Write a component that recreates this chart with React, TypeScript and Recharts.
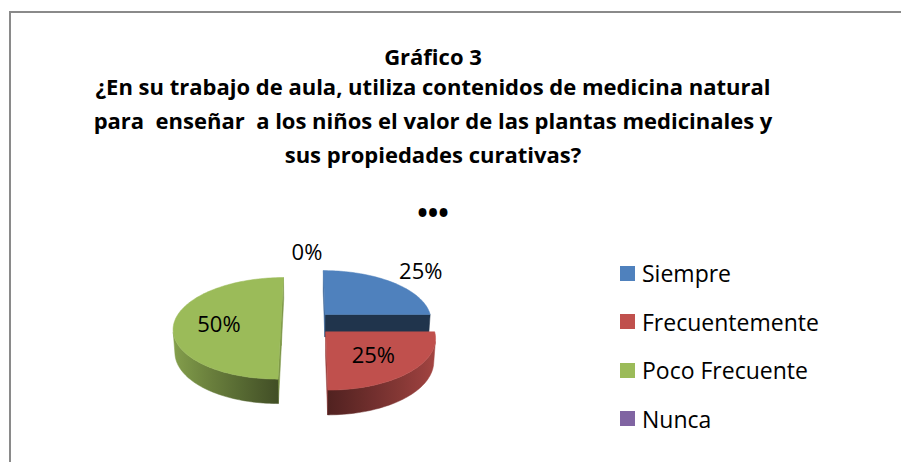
import React from "react";
import { Cell, Legend, Pie, PieChart } from "recharts";

const categories = ["Siempre", "Frecuentemente", "Poco Frecuente", "Nunca"];
const values = [25, 25, 50, 0];
const colors = ["#4F81BD", "#C0504D", "#9BBB59", "#8064A2"];
const titleLines = [
  "Gráfico 3",
  "¿En su trabajo de aula, utiliza contenidos de medicina natural",
  "para  enseñar  a los niños el valor de las plantas medicinales y",
  "sus propiedades curativas?",
];

const data = categories.map((name, i) => ({ name, value: values[i] }));

const FONT = "'Open Sans', Lato, sans-serif";
const RAD = Math.PI / 180;
// fake 3d: tilt + perspective like the excel chart
const TILT = 28 * RAD;
const FOCAL = 900;
const THICK = 26;
const EXPLODE = 26;
const CAM = [0, FOCAL * Math.sin(TILT), -FOCAL * Math.cos(TILT)];

type P3 = [number, number, number];

const project = (cx: number, cy: number, p: P3) => {
  const v = p[1] * Math.cos(TILT) + p[2] * Math.sin(TILT);
  const w = p[2] * Math.cos(TILT) - p[1] * Math.sin(TILT);
  const s = FOCAL / (FOCAL + w);
  return [cx + p[0] * s, cy - v * s];
};

const facesCamera = (n: number[], p: P3) =>
  n[0] * (CAM[0] - p[0]) + n[1] * (CAM[1] - p[1]) + n[2] * (CAM[2] - p[2]) > 0;

const shade = (hex: string, k: number) => {
  const n = parseInt(hex.slice(1), 16);
  const c = [(n >> 16) & 255, (n >> 8) & 255, n & 255].map((v) =>
    Math.round(Math.min(255, v * k))
  );
  return `rgb(${c.join(",")})`;
};

const wallTone = (deg: number) => 0.42 + 0.45 * Math.abs(Math.cos(deg * RAD));

const renderSlice = (props: any) => {
  const { cx, cy, outerRadius: r, startAngle, endAngle, fill, percent, index } = props;
  const a0 = Math.min(startAngle, endAngle);
  const a1 = Math.max(startAngle, endAngle);
  const mid = (a0 + a1) / 2;
  const ox = EXPLODE * Math.cos(mid * RAD);
  const oz = EXPLODE * Math.sin(mid * RAD);
  const pt = (deg: number, rr: number, y: number): P3 => [
    ox + rr * Math.cos(deg * RAD),
    y,
    oz + rr * Math.sin(deg * RAD),
  ];
  const toPath = (pts: P3[]) =>
    pts
      .map((p, i) => {
        const [x, y] = project(cx, cy, p);
        return `${i ? "L" : "M"}${x.toFixed(2)},${y.toFixed(2)}`;
      })
      .join("") + "Z";

  const parts: React.ReactNode[] = [];
  if (a1 - a0 > 0.01) {
    const steps = Math.max(2, Math.ceil((a1 - a0) / 1.5));
    const angles = Array.from({ length: steps + 1 }, (_, i) => a0 + ((a1 - a0) * i) / steps);

    // cut faces
    const cuts: [number, number[]][] = [
      [a0, [Math.sin(a0 * RAD), 0, -Math.cos(a0 * RAD)]],
      [a1, [-Math.sin(a1 * RAD), 0, Math.cos(a1 * RAD)]],
    ];
    cuts.forEach(([a, n], k) => {
      if (!facesCamera(n, pt(a, r / 2, -THICK / 2))) return;
      const col = shade(fill, 0.4 + 0.4 * Math.abs(n[0]));
      parts.push(
        <path
          key={`cut${k}`}
          d={toPath([pt(a, 0, 0), pt(a, r, 0), pt(a, r, -THICK), pt(a, 0, -THICK)])}
          fill={col}
          stroke={col}
          strokeWidth={0.5}
        />
      );
    });

    // outer wall, only the part turned to the viewer
    const vis = angles.map((a) =>
      facesCamera([Math.cos(a * RAD), 0, Math.sin(a * RAD)], pt(a, r, -THICK / 2))
    );
    const runs: number[][] = [];
    let run: number[] = [];
    angles.forEach((a, i) => {
      if (vis[i]) run.push(a);
      else if (run.length) {
        runs.push(run);
        run = [];
      }
    });
    if (run.length) runs.push(run);
    runs
      .filter((rn) => rn.length > 1)
      .forEach((rn, k) => {
        const xs = rn.map((a) => project(cx, cy, pt(a, r, 0))[0]);
        const xmin = Math.min(...xs);
        const xmax = Math.max(...xs);
        const id = `wall-${index}-${k}`;
        const stops = rn
          .map((a, i) => ({ a, x: xs[i] }))
          .filter((_, i) => i % 5 === 0 || i === rn.length - 1)
          .map((s) => ({ off: (s.x - xmin) / (xmax - xmin || 1), col: shade(fill, wallTone(s.a)) }))
          .sort((p, q) => p.off - q.off);
        parts.push(
          <g key={id}>
            <defs>
              <linearGradient id={id} gradientUnits="userSpaceOnUse" x1={xmin} y1={0} x2={xmax} y2={0}>
                {stops.map((s, i) => (
                  <stop key={i} offset={s.off} stopColor={s.col} />
                ))}
              </linearGradient>
            </defs>
            <path
              d={toPath([
                ...rn.map((a) => pt(a, r, 0)),
                ...rn.slice().reverse().map((a) => pt(a, r, -THICK)),
              ])}
              fill={`url(#${id})`}
              stroke={`url(#${id})`}
              strokeWidth={0.5}
            />
          </g>
        );
      });

    parts.push(
      <path
        key="top"
        d={toPath([pt(a0, 0, 0), ...angles.map((a) => pt(a, r, 0))])}
        fill={fill}
        stroke={fill}
        strokeWidth={0.5}
      />
    );
  }

  const outside = Math.sin(mid * RAD) > 0.2;
  const [lx, ly] = project(cx, cy, pt(mid, r * (outside ? 1.45 : 0.58), 0));
  parts.push(
    <text
      key="lbl"
      x={lx}
      y={ly}
      textAnchor="middle"
      dominantBaseline="central"
      fontFamily={FONT}
      fontSize={22}
      fill="#000"
    >
      {`${Math.round(percent * 100)}%`}
    </text>
  );
  return <g key={`slice-${index}`}>{parts}</g>;
};

const renderLegend = (props: any) => {
  const items = [...(props.payload || [])].sort(
    (p: any, q: any) => categories.indexOf(p.value) - categories.indexOf(q.value)
  );
  return (
    <div style={{ fontFamily: FONT, fontSize: 23, color: "#000" }}>
      {items.map((p: any) => (
        <div key={p.value} style={{ display: "flex", alignItems: "center", height: 48.5 }}>
          <span style={{ width: 15, height: 15, background: p.color, marginRight: 7 }} />
          {p.value}
        </div>
      ))}
    </div>
  );
};

const titleTop = [41, 71, 105, 139];

const App = () => {
  return (
    <div style={{ position: "absolute", left: 0, top: 0, width: 901, height: 462, background: "#fff" }}>
      <div
        style={{
          position: "absolute",
          left: 9,
          top: 11,
          width: 892,
          height: 451,
          borderLeft: "2px solid #8a8a8a",
          borderTop: "2px solid #8a8a8a",
        }}
      />
      {titleLines.map((line, i) => (
        <div
          key={i}
          style={{
            position: "absolute",
            left: 0,
            top: titleTop[i],
            width: 866,
            textAlign: "center",
            fontFamily: FONT,
            fontWeight: 700,
            fontSize: 22,
            lineHeight: "30px",
            whiteSpace: "pre",
            color: "#000",
          }}
        >
          {line}
        </div>
      ))}
      <div
        style={{
          position: "absolute",
          left: 0,
          top: 197,
          width: 866,
          textAlign: "center",
          fontFamily: FONT,
          fontWeight: 700,
          fontSize: 28,
          lineHeight: "30px",
          color: "#000",
        }}
      >
        •••
      </div>
      <PieChart
        width={901}
        height={462}
        margin={{ top: 0, right: 0, bottom: 0, left: 0 }}
        style={{ position: "absolute", left: 0, top: 0 }}
      >
        <Pie
          data={data}
          dataKey="value"
          nameKey="name"
          cx={307}
          cy={323}
          outerRadius={107}
          startAngle={90}
          endAngle={-270}
          stroke="none"
          fillOpacity={0}
          label={renderSlice}
          labelLine={false}
          isAnimationActive={false}
        >
          {data.map((d, i) => (
            <Cell key={d.name} fill={colors[i]} />
          ))}
        </Pie>
        <Legend
          layout="vertical"
          align="right"
          verticalAlign="middle"
          content={renderLegend}
          wrapperStyle={{ left: 620, top: 249, width: 260 }}
        />
      </PieChart>
    </div>
  );
};

export default App;
